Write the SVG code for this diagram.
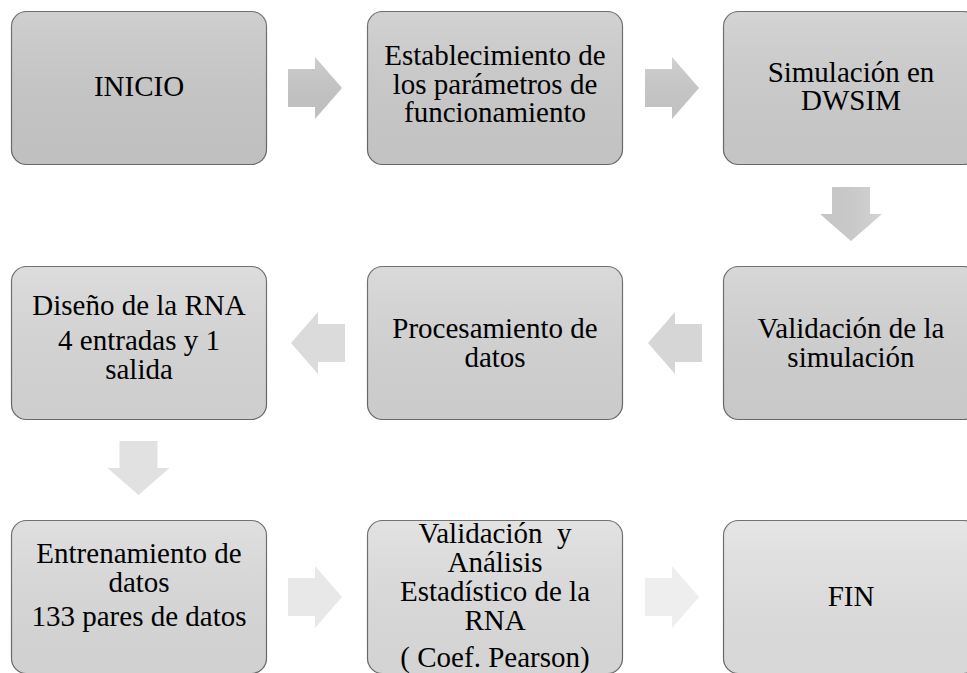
<svg xmlns="http://www.w3.org/2000/svg" width="967" height="673" viewBox="0 0 967 673">
<style>
.box{stroke:#6b6b6b;stroke-width:1.2}
.shade{fill:url(#shade);stroke:none}
.t{font-family:'Liberation Serif','Times New Roman',serif;font-size:29px;fill:#000;text-anchor:middle}
</style>
<defs>
<linearGradient id="shade" x1="0" y1="0" x2="0" y2="1">
<stop offset="0" stop-color="#ffffff" stop-opacity="0.10"/>
<stop offset="1" stop-color="#000000" stop-opacity="0.05"/>
</linearGradient>
<linearGradient id="ashade" x1="0" y1="0" x2="0" y2="1">
<stop offset="0" stop-color="#ffffff" stop-opacity="0.12"/>
<stop offset="1" stop-color="#000000" stop-opacity="0.04"/>
</linearGradient>
<path id="arrowR" d="M0,-19 H27 V-31 L54,0 L27,31 V19 H0 Z"/>
</defs>
<rect width="967" height="673" fill="#ffffff"/>

<g id="connectors">
<use href="#arrowR" transform="translate(288,88)" fill="#c8c8c8"/>
<use href="#arrowR" transform="translate(288,88)" fill="url(#ashade)"/>
<use href="#arrowR" transform="translate(645,88)" fill="#cbcbcb"/>
<use href="#arrowR" transform="translate(645,88)" fill="url(#ashade)"/>
<use href="#arrowR" transform="translate(851,187) rotate(90)" fill="#cfcfcf"/>
<use href="#arrowR" transform="translate(851,187) rotate(90)" fill="url(#ashade)"/>
<use href="#arrowR" transform="translate(702,343) rotate(180)" fill="#d6d6d6"/>
<use href="#arrowR" transform="translate(345,343) rotate(180)" fill="#dbdbdb"/>
<use href="#arrowR" transform="translate(138.5,441) rotate(90)" fill="#e1e1e1"/>
<use href="#arrowR" transform="translate(288,597)" fill="#e8e8e8"/>
<use href="#arrowR" transform="translate(645,597)" fill="#eeeeee"/>
</g>

<g id="n1">
<rect class="box" x="11.5" y="11.5" width="255" height="153" rx="15" fill="#cacaca"/>
<rect class="shade" x="11.5" y="11.5" width="255" height="153" rx="15"/>
<text class="t" x="139" y="96">INICIO</text>
</g>

<g id="n2">
<rect class="box" x="367.5" y="11.5" width="255" height="153" rx="15" fill="#cdcdcd"/>
<rect class="shade" x="367.5" y="11.5" width="255" height="153" rx="15"/>
<text class="t" x="495" y="65">Establecimiento de</text>
<text class="t" x="495" y="93.5">los parámetros de</text>
<text class="t" x="495" y="122">funcionamiento</text>
</g>

<g id="n3">
<rect class="box" x="723.5" y="11.5" width="255" height="153" rx="15" fill="#cfcfcf"/>
<rect class="shade" x="723.5" y="11.5" width="255" height="153" rx="15"/>
<text class="t" x="851" y="82">Simulación en</text>
<text class="t" x="851" y="110">DWSIM</text>
</g>

<g id="n4">
<rect class="box" x="723.5" y="266.5" width="255" height="153" rx="15" fill="#d3d3d3"/>
<rect class="shade" x="723.5" y="266.5" width="255" height="153" rx="15"/>
<text class="t" x="851" y="338">Validación de la</text>
<text class="t" x="851" y="366.5">simulación</text>
</g>

<g id="n5">
<rect class="box" x="367.5" y="266.5" width="255" height="153" rx="15" fill="#d6d6d6"/>
<rect class="shade" x="367.5" y="266.5" width="255" height="153" rx="15"/>
<text class="t" x="495" y="338">Procesamiento de</text>
<text class="t" x="495" y="366.5">datos</text>
</g>

<g id="n6">
<rect class="box" x="11.5" y="266.5" width="255" height="153" rx="15" fill="#d9d9d9"/>
<rect class="shade" x="11.5" y="266.5" width="255" height="153" rx="15"/>
<text class="t" x="139" y="315">Diseño de la RNA</text>
<text class="t" x="139" y="350">4 entradas y 1</text>
<text class="t" x="139" y="378.5">salida</text>
</g>

<g id="n7">
<rect class="box" x="11.5" y="520.5" width="255" height="153" rx="15" fill="#dcdcdc"/>
<rect class="shade" x="11.5" y="520.5" width="255" height="153" rx="15"/>
<text class="t" x="139" y="563">Entrenamiento de</text>
<text class="t" x="139" y="592">datos</text>
<text class="t" x="139" y="626">133 pares de datos</text>
</g>

<g id="n8">
<rect class="box" x="367.5" y="520.5" width="255" height="153" rx="15" fill="#dfdfdf"/>
<rect class="shade" x="367.5" y="520.5" width="255" height="153" rx="15"/>
<text class="t" x="495" y="543" xml:space="preserve">Validación  y</text>
<text class="t" x="495" y="572">Análisis</text>
<text class="t" x="495" y="601">Estadístico de la</text>
<text class="t" x="495" y="630">RNA</text>
<text class="t" x="495" y="667">( Coef. Pearson)</text>
</g>

<g id="n9">
<rect class="box" x="723.5" y="520.5" width="255" height="153" rx="15" fill="#e3e3e3"/>
<rect class="shade" x="723.5" y="520.5" width="255" height="153" rx="15"/>
<text class="t" x="851" y="606">FIN</text>
</g>
</svg>
